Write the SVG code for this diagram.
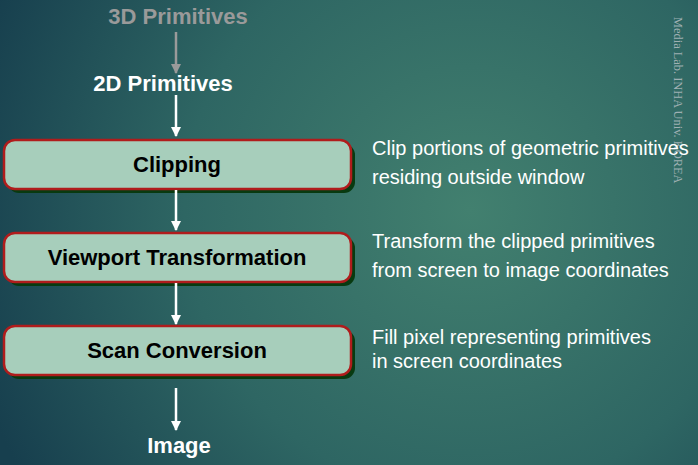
<svg xmlns="http://www.w3.org/2000/svg" width="698" height="465" viewBox="0 0 698 465">
<defs>
<radialGradient id="bg" cx="470" cy="210" r="520" gradientUnits="userSpaceOnUse">
<stop offset="0" stop-color="#42806f"/>
<stop offset="0.55" stop-color="#2e6663"/>
<stop offset="1" stop-color="#173f4e"/>
</radialGradient>
<marker id="aw" markerWidth="10" markerHeight="10" refX="9" refY="5" orient="auto" markerUnits="userSpaceOnUse">
<path d="M0,0 L10,5 L0,10 Z" fill="#ffffff"/>
</marker>
<marker id="ag" markerWidth="10" markerHeight="10" refX="9" refY="5" orient="auto" markerUnits="userSpaceOnUse">
<path d="M0,0 L10,5 L0,10 Z" fill="#9a9a9a"/>
</marker>
</defs>
<style>
.box{fill:#a7cebb;stroke:#b01c1c;stroke-width:2.5}
.shadow{fill:#083a10}
.bt{font-family:"Liberation Sans",Arial,sans-serif;font-weight:bold;font-size:22px;fill:#000;text-anchor:middle}
.lbl{font-family:"Liberation Sans",Arial,sans-serif;font-weight:bold;font-size:22px;fill:#fff;text-anchor:middle}
.desc{font-family:"Liberation Sans",Arial,sans-serif;font-size:20px;fill:#fff}
.w{stroke:#fff;stroke-width:2.5;fill:none}
</style>
<rect width="698" height="465" fill="url(#bg)"/>
<text transform="translate(674,17) rotate(90)" font-family="Liberation Serif,serif" font-size="12.4" fill="#9fb0b3">Media Lab. INHA Univ. KOREA</text>
<g id="n3d"><text class="lbl" x="178" y="24" style="fill:#9a9a9a">3D Primitives</text></g>
<g id="n2d"><text class="lbl" x="163" y="91">2D Primitives</text></g>
<g id="clipping">
<rect class="shadow" x="8" y="144" width="347" height="49" rx="11"/>
<rect class="box" x="4" y="140" width="347" height="49" rx="11"/>
<text class="bt" x="177" y="172">Clipping</text>
<text class="desc" x="372" y="155">Clip portions of geometric primitives</text>
<text class="desc" x="372" y="184">residing outside window</text>
</g>
<g id="viewport">
<rect class="shadow" x="8" y="237" width="347" height="49" rx="11"/>
<rect class="box" x="4" y="233" width="347" height="49" rx="11"/>
<text class="bt" x="177" y="265">Viewport Transformation</text>
<text class="desc" x="372" y="248">Transform the clipped primitives</text>
<text class="desc" x="372" y="277">from screen to image coordinates</text>
</g>
<g id="scan">
<rect class="shadow" x="8" y="330" width="347" height="49" rx="11"/>
<rect class="box" x="4" y="326" width="347" height="49" rx="11"/>
<text class="bt" x="177" y="358">Scan Conversion</text>
<text class="desc" x="372" y="344">Fill pixel representing primitives</text>
<text class="desc" x="372" y="368">in screen coordinates</text>
</g>
<g id="image"><text class="lbl" x="179" y="453">Image</text></g>
<g id="connectors">
<line x1="176" y1="32" x2="176" y2="73" stroke="#9a9a9a" stroke-width="2.5" marker-end="url(#ag)"/>
<line class="w" x1="176" y1="95" x2="176" y2="136" marker-end="url(#aw)"/>
<line class="w" x1="176" y1="190" x2="176" y2="230" marker-end="url(#aw)"/>
<line class="w" x1="176" y1="283" x2="176" y2="324" marker-end="url(#aw)"/>
<line class="w" x1="176" y1="388" x2="176" y2="430" marker-end="url(#aw)"/>
</g>
</svg>
